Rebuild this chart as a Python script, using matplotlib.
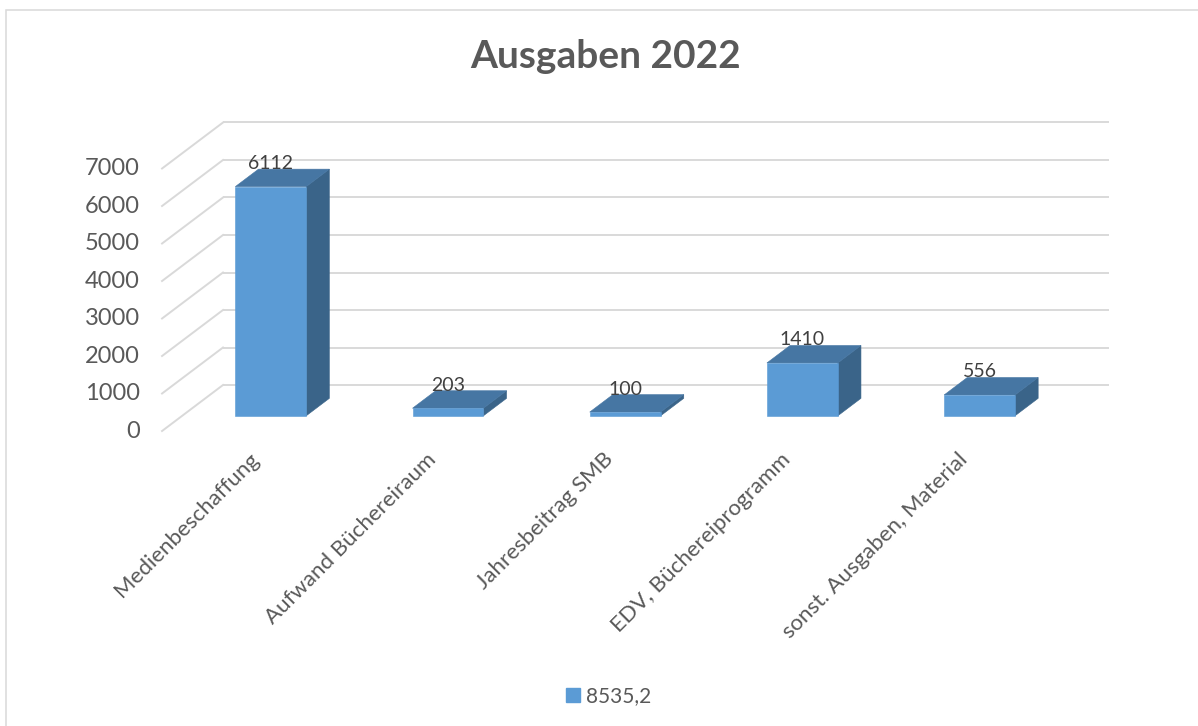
import matplotlib.pyplot as plt
from matplotlib.patches import Polygon, Rectangle, Patch

# data
categories = ['Medienbeschaffung', 'Aufwand Büchereiraum', 'Jahresbeitrag SMB',
              'EDV, Büchereiprogramm', 'sonst. Ausgaben, Material']
values = [6112, 203, 100, 1410, 556]
yticks = [0, 1000, 2000, 3000, 4000, 5000, 6000, 7000]
series_label = '8535,2'
title = 'Ausgaben 2022'

# settings
W, H = 1198, 726
DPI = 100
c_front = '#5b9bd5'
c_top = '#4676a3'
c_side = '#3a6489'
c_grid = '#d9d9d9'
c_text = '#595959'
plt.rcParams['font.family'] = ['Lato', 'DejaVu Sans']

# pseudo 3d: axes = back wall, depth z goes from back (0) to front (1)
DX = -0.344    # category units per depth unit
DY = -1227     # value units per depth unit
Z_BACK, Z_FRONT = 0.29, 0.67
BAR_W = 0.4


def proj(x, y, z):
	return (x + DX * z, y + DY * z)


fig = plt.figure(figsize=(W / DPI, H / DPI), dpi=DPI)
ax = fig.add_axes([223 / W, 1 - 385 / H, (1109 - 223) / W, (385 - 122.5) / H])
ax.set_xlim(0, len(categories))
ax.set_ylim(0, 7000)
ax.axis('off')

# chart border
fig.patches.append(Rectangle((6 / W, -0.05), 1.1, 1 - 10 / H + 0.05, transform=fig.transFigure,
                             fill=False, edgecolor='#d9d9d9', lw=1.1))

# gridlines on back wall and left wall
ax.hlines(yticks, 0, len(categories), color=c_grid, lw=1.4, clip_on=False, zorder=1)
for v in yticks:
	x0, y0 = proj(0, v, 0)
	x1, y1 = proj(0, v, 1)
	ax.plot([x0, x1], [y0, y1], color=c_grid, lw=1.4, clip_on=False, zorder=1)
	ax.annotate(f'{v}', (x1, y1), xytext=(-16, 0), textcoords='offset points',
	            ha='right', va='center', fontsize=17, color=c_text, annotation_clip=False)

# bars
for i, v in enumerate(values):
	xl = i + 0.5 - BAR_W / 2
	xr = i + 0.5 + BAR_W / 2
	front = [proj(xl, 0, Z_FRONT), proj(xr, 0, Z_FRONT), proj(xr, v, Z_FRONT), proj(xl, v, Z_FRONT)]
	top = [proj(xl, v, Z_FRONT), proj(xr, v, Z_FRONT), proj(xr, v, Z_BACK), proj(xl, v, Z_BACK)]
	side = [proj(xr, 0, Z_FRONT), proj(xr, 0, Z_BACK), proj(xr, v, Z_BACK), proj(xr, v, Z_FRONT)]
	for pts, col in ((side, c_side), (top, c_top), (front, c_front)):
		ax.add_patch(Polygon(pts, closed=True, facecolor=col, edgecolor=col, lw=0.4,
		                     clip_on=False, zorder=3))
	# value label
	lx, _ = proj(i + 0.5, v, Z_FRONT)
	_, ly = proj(i + 0.5, v, Z_BACK)
	ax.text(lx, ly, f'{v}', ha='center', va='baseline', fontsize=14, color='#404040', zorder=5)
	# category label
	cx, cy = proj(i + 0.5, 0, Z_FRONT)
	ax.annotate(categories[i], (cx, cy), xytext=(-11, -29), textcoords='offset points',
	            ha='right', va='center', rotation=45, rotation_mode='anchor',
	            fontsize=16, color=c_text, annotation_clip=False)

fig.text(606 / W, 1 - 57 / H, title, ha='center', va='center', fontsize=28,
         fontweight='bold', color=c_text)

fig.legend(handles=[Patch(facecolor=c_front, edgecolor=c_front)], labels=[series_label],
           loc='center', bbox_to_anchor=(609 / W, 1 - 696 / H), frameon=False,
           handlelength=0.65, handleheight=0.65, handletextpad=0.3, fontsize=15,
           labelcolor=c_text)

fig.savefig('out.png', dpi=DPI)
